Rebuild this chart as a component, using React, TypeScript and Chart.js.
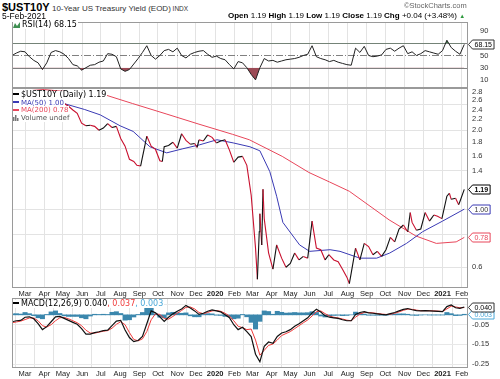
import React, { useEffect, useRef } from "react";
import { Chart, registerables } from "chart.js";

Chart.register(...registerables);

// ---------------- data ----------------
const priceDates = [
  "2019-02-08","2019-02-15","2019-02-22","2019-03-01","2019-03-08","2019-03-15","2019-03-22","2019-03-29",
  "2019-04-05","2019-04-12","2019-04-18","2019-04-26","2019-05-03","2019-05-10","2019-05-17","2019-05-24",
  "2019-05-31","2019-06-07","2019-06-14","2019-06-21","2019-06-28","2019-07-05","2019-07-12","2019-07-19",
  "2019-07-26","2019-08-02","2019-08-09","2019-08-16","2019-08-23","2019-08-28","2019-09-03","2019-09-13",
  "2019-09-20","2019-09-27","2019-10-04","2019-10-08","2019-10-11","2019-10-18","2019-10-25","2019-11-01",
  "2019-11-08","2019-11-15","2019-11-22","2019-11-29","2019-12-03","2019-12-06","2019-12-13","2019-12-20",
  "2019-12-27","2020-01-03","2020-01-10","2020-01-17","2020-01-24","2020-01-31","2020-02-07","2020-02-14",
  "2020-02-21","2020-02-28","2020-03-06","2020-03-09","2020-03-12","2020-03-13","2020-03-16","2020-03-18",
  "2020-03-20","2020-03-27","2020-04-03","2020-04-09","2020-04-17","2020-04-24","2020-05-01","2020-05-08",
  "2020-05-15","2020-05-22","2020-05-29","2020-06-05","2020-06-12","2020-06-19","2020-06-26","2020-07-02",
  "2020-07-10","2020-07-17","2020-07-24","2020-07-31","2020-08-04","2020-08-07","2020-08-14","2020-08-21",
  "2020-08-28","2020-09-04","2020-09-11","2020-09-18","2020-09-25","2020-10-02","2020-10-09","2020-10-16",
  "2020-10-23","2020-10-30","2020-11-06","2020-11-10","2020-11-13","2020-11-20","2020-11-27","2020-12-04",
  "2020-12-11","2020-12-18","2020-12-24","2020-12-31","2021-01-08","2021-01-12","2021-01-15","2021-01-22",
  "2021-01-27","2021-01-29","2021-02-05",
];
const priceValues = [
  2.63, 2.66, 2.65, 2.76, 2.63, 2.59, 2.44, 2.41,
  2.50, 2.56, 2.56, 2.50, 2.53, 2.47, 2.39, 2.32,
  2.13, 2.08, 2.09, 2.07, 2.00, 2.04, 2.12, 2.05,
  2.07, 1.86, 1.74, 1.55, 1.52, 1.47, 1.46, 1.90,
  1.74, 1.69, 1.53, 1.52, 1.73, 1.75, 1.80, 1.71,
  1.94, 1.83, 1.77, 1.78, 1.72, 1.84, 1.82, 1.92,
  1.88, 1.79, 1.82, 1.84, 1.68, 1.51, 1.58, 1.59,
  1.47, 1.13, 0.71, 0.54, 0.82, 0.96, 0.73, 1.19,
  0.92, 0.68, 0.59, 0.73, 0.65, 0.60, 0.62, 0.68,
  0.64, 0.66, 0.65, 0.90, 0.71, 0.70, 0.64, 0.67,
  0.64, 0.63, 0.59, 0.55, 0.52, 0.57, 0.71, 0.64,
  0.74, 0.72, 0.67, 0.69, 0.66, 0.70, 0.78, 0.75,
  0.84, 0.87, 0.82, 0.97, 0.89, 0.83, 0.84, 0.97,
  0.90, 0.95, 0.94, 0.92, 1.12, 1.15, 1.09, 1.10,
  1.04, 1.07, 1.19,
];

const ma50Dates = [
  "2019-02-08","2019-03-15","2019-04-30","2019-06-05","2019-06-30","2019-08-01","2019-08-22","2019-09-18",
  "2019-10-15","2019-11-10","2019-12-07","2020-01-04","2020-01-30","2020-02-26","2020-03-13","2020-03-29",
  "2020-04-09","2020-04-19","2020-05-16","2020-06-01","2020-07-04","2020-07-20","2020-08-21","2020-09-17",
  "2020-10-08","2020-11-04","2020-11-30","2021-01-01","2021-02-05",
];
const ma50Values = [
  2.68, 2.67, 2.54, 2.40, 2.29, 2.08, 1.98, 1.73,
  1.64, 1.70, 1.76, 1.84, 1.79, 1.73, 1.67, 1.39,
  1.12, 0.89, 0.73, 0.69, 0.70, 0.69, 0.65, 0.65,
  0.68, 0.74, 0.82, 0.90, 1.00,
];

const ma200Dates = [
  "2019-02-08","2019-04-01","2019-05-20","2019-07-10","2019-08-21","2019-10-14","2019-12-06","2020-01-29",
  "2020-02-25","2020-04-18","2020-05-31","2020-07-03","2020-08-04","2020-10-07","2020-11-19","2020-12-22",
  "2021-01-23","2021-02-05",
];
const ma200Values = [
  2.93, 2.86, 2.79, 2.72, 2.53, 2.31, 2.11, 1.93,
  1.84, 1.59, 1.38, 1.27, 1.17, 0.91, 0.79, 0.74,
  0.75, 0.78,
];

// weekly series, one value per week starting on this date
const weeklyStart = "2019-02-08";
const rsiValues = [
  50, 54, 57, 56, 48, 42, 38, 27, 38, 55,
  58, 56, 52, 45, 35, 33, 26, 30, 34, 35,
  39, 41, 53, 52, 48, 28, 24, 27, 36, 45,
  55, 66, 50, 44, 50, 58, 60, 56, 62, 50,
  46, 52, 55, 57, 58, 52, 47, 49, 45, 43,
  35, 28, 40, 38, 30, 19, 10, 30, 45, 41,
  42, 39, 41, 43, 44, 45, 47, 50, 52, 66,
  48, 45, 43, 40, 42, 39, 37, 35, 34, 62,
  55, 65, 50, 48, 49, 51, 60, 62, 57, 62,
  66, 53, 56, 50, 53, 58, 56, 54, 52, 58,
  75, 63, 57, 52, 68.15,
];
const macdValues = [
  -0.035, -0.030, -0.028, -0.012, -0.010, -0.020, -0.045, -0.075, -0.060, -0.035,
  -0.010, -0.008, -0.018, -0.028, -0.038, -0.048, -0.070, -0.098, -0.098, -0.090,
  -0.086, -0.080, -0.078, -0.055, -0.032, -0.028, -0.077, -0.115, -0.136, -0.130,
  -0.110, -0.045, 0.020, 0.010, -0.010, -0.033, -0.012, 0.005, 0.018, 0.030,
  0.048, 0.035, 0.020, 0.002, 0.008, 0.018, 0.025, 0.020, 0.015, 0.000,
  -0.015, -0.050, -0.075, -0.063, -0.085, -0.110, -0.200, -0.238, -0.160, -0.138,
  -0.145, -0.110, -0.092, -0.086, -0.075, -0.058, -0.045, -0.030, -0.015, 0.010,
  0.028, 0.014, -0.005, -0.012, -0.015, -0.018, -0.025, -0.030, -0.030, 0.002,
  0.012, 0.016, 0.010, 0.008, 0.005, 0.002, 0.000, 0.006, 0.012, 0.020,
  0.028, 0.032, 0.026, 0.021, 0.020, 0.021, 0.020, 0.019, 0.018, 0.016,
  0.042, 0.050, 0.036, 0.033, 0.040,
];
const signalValues = [
  -0.040, -0.036, -0.032, -0.024, -0.016, -0.016, -0.030, -0.055, -0.062, -0.050,
  -0.030, -0.015, -0.013, -0.020, -0.030, -0.040, -0.055, -0.078, -0.092, -0.093,
  -0.088, -0.083, -0.080, -0.068, -0.048, -0.035, -0.050, -0.090, -0.125, -0.132,
  -0.122, -0.085, -0.025, 0.005, 0.002, -0.018, -0.022, -0.008, 0.008, 0.022,
  0.038, 0.040, 0.030, 0.012, 0.006, 0.012, 0.020, 0.022, 0.018, 0.008,
  -0.006, -0.030, -0.058, -0.065, -0.075, -0.072, -0.128, -0.205, -0.180, -0.155,
  -0.148, -0.128, -0.105, -0.095, -0.085, -0.070, -0.055, -0.040, -0.026, -0.006,
  0.016, 0.020, 0.006, -0.006, -0.012, -0.016, -0.021, -0.027, -0.030, -0.012,
  0.004, 0.012, 0.012, 0.010, 0.007, 0.004, 0.002, 0.003, 0.008, 0.015,
  0.023, 0.029, 0.028, 0.024, 0.021, 0.021, 0.021, 0.020, 0.019, 0.017,
  0.030, 0.044, 0.040, 0.036, 0.037,
];

const monthTickDates = [
  "2019-03-01","2019-04-01","2019-05-01","2019-06-01","2019-07-01","2019-08-01","2019-09-01","2019-10-01",
  "2019-11-01","2019-12-01","2020-01-01","2020-02-01","2020-03-01","2020-04-01","2020-05-01","2020-06-01",
  "2020-07-01","2020-08-01","2020-09-01","2020-10-01","2020-11-01","2020-12-01","2021-01-01","2021-02-01",
];
const monthLabels = [
  "Mar","Apr","May","Jun","Jul","Aug","Sep","Oct","Nov","Dec","2020","Feb",
  "Mar","Apr","May","Jun","Jul","Aug","Sep","Oct","Nov","Dec","2021","Feb",
];
const priceLabelTicks = [0.6, 1.4, 1.6, 1.8, 2.0, 2.2, 2.4, 2.6, 2.8];
const priceGridTicks = [0.6, 0.8, 1.0, 1.4, 1.7, 2.0, 2.5];
const rsiLabelTicks = [10, 30, 50, 90];
const macdLabelTicks = [-0.25, -0.2, -0.15, -0.1, -0.05];
const macdGridTicks = [-0.25, -0.2, -0.15, -0.1, -0.05, 0, 0.05];

// ---------------- helpers ----------------
const DAY0 = Date.UTC(2019, 0, 1);
const dayOf = (s: string) => {
  const [y, m, d] = s.split("-").map(Number);
  return (Date.UTC(y, m - 1, d) - DAY0) / 86400000;
};
const X_MIN = 38;
const X_MAX = 772;
const AXIS_FONT = '"Liberation Sans", Arial, sans-serif';
const LEGEND_FONT = '"DejaVu Sans", Verdana, sans-serif';

const UP = "#111111";
const DOWN = "#c8102e";
const MA50C = "#3a3ab4";
const MA200C = "#e8465a";
const SIGC = "#f03a3a";
const HISTC = "#3b87ad";
const HISTTXT = "#4aa8d8";

const weekly = (vals: number[]) => vals.map((v, i) => ({ x: dayOf(weeklyStart) + 7 * i, y: v }));
const pairs = (dates: string[], vals: number[]) => dates.map((d, i) => ({ x: dayOf(d), y: vals[i] }));
const last = (a: number[]) => a[a.length - 1];

function xScale(labelHeight: number) {
  return {
    type: "linear",
    min: X_MIN,
    max: X_MAX,
    afterBuildTicks: (s: any) => {
      s.ticks = monthTickDates.map((d) => ({ value: dayOf(d) }));
    },
    afterFit: (s: any) => {
      s.height = labelHeight;
      s.paddingLeft = 0;
      s.paddingRight = 0;
    },
    grid: { color: "#e3e3e3", lineWidth: 1, drawTicks: false },
    border: { display: false },
    ticks: {
      display: labelHeight > 0,
      autoSkip: false,
      maxRotation: 0,
      minRotation: 0,
      padding: 1,
      color: "#222",
      font: (c: any) => ({
        family: AXIS_FONT,
        size: 7.5,
        weight: /^\d{4}$/.test(monthLabels[c.index] || "") ? "bold" : "normal",
      }),
      callback: (_v: any, i: number) => monthLabels[i],
    },
  };
}

function yRight(extra: any) {
  return {
    position: "right",
    afterFit: (s: any) => {
      s.width = 32;
      s.paddingTop = 0;
      s.paddingBottom = 0;
    },
    border: { display: false },
    ...extra,
  };
}

const framePlugin = {
  id: "frame",
  afterDraw(chart: any) {
    const { ctx, chartArea: a } = chart;
    ctx.save();
    ctx.strokeStyle = "#9a9a9a";
    ctx.lineWidth = 1;
    ctx.strokeRect(
      Math.round(a.left) + 0.5,
      Math.round(a.top) + 0.5,
      Math.round(a.right - a.left) - 1,
      Math.round(a.bottom - a.top) - 1
    );
    ctx.restore();
  },
};

type Tag = { value: number; text: string; color: string; border: string; bold?: boolean };
function tagPlugin(items: Tag[]) {
  return {
    id: "tags",
    afterDraw(chart: any) {
      const { ctx, chartArea } = chart;
      const y = chart.scales.y;
      items.forEach((t) => {
        const py = Math.round(y.getPixelForValue(t.value)) + 0.5;
        const x0 = Math.round(chartArea.right) + 0.5;
        ctx.save();
        ctx.font = `${t.bold ? "bold " : ""}7px ${AXIS_FONT}`;
        const tw = ctx.measureText(t.text).width;
        const h = 9;
        const right = x0 + 4 + tw + 4;
        ctx.beginPath();
        ctx.moveTo(x0, py);
        ctx.lineTo(x0 + 4, py - h / 2);
        ctx.lineTo(right, py - h / 2);
        ctx.lineTo(right, py + h / 2);
        ctx.lineTo(x0 + 4, py + h / 2);
        ctx.closePath();
        ctx.fillStyle = "#fff";
        ctx.fill();
        ctx.strokeStyle = t.border;
        ctx.lineWidth = 1;
        ctx.stroke();
        ctx.fillStyle = t.color;
        ctx.textBaseline = "middle";
        ctx.textAlign = "left";
        ctx.fillText(t.text, x0 + 6, py + 0.5);
        ctx.restore();
      });
    },
  };
}

const rsiLinesPlugin = {
  id: "rsiLines",
  beforeDatasetsDraw(chart: any) {
    const { ctx, chartArea: a, scales } = chart;
    const y = scales.y;
    ctx.save();
    ctx.strokeStyle = "#808080";
    ctx.lineWidth = 1;
    [70, 30].forEach((v) => {
      const py = Math.round(y.getPixelForValue(v)) + 0.5;
      ctx.beginPath();
      ctx.moveTo(a.left, py);
      ctx.lineTo(a.right, py);
      ctx.stroke();
    });
    ctx.setLineDash([7, 2, 1, 2]);
    const p50 = Math.round(y.getPixelForValue(50)) + 0.5;
    ctx.beginPath();
    ctx.moveTo(a.left, p50);
    ctx.lineTo(a.right, p50);
    ctx.stroke();
    ctx.restore();
  },
};

const baseOptions = (padTop: number, padBottom: number) => ({
  animation: false,
  responsive: false,
  events: [],
  layout: { padding: { left: 12, right: 0, top: padTop, bottom: padBottom } },
  plugins: { legend: { display: false }, tooltip: { enabled: false } },
  elements: { point: { radius: 0 }, line: { tension: 0 } },
});

// ---------------- legend pieces ----------------
function Marker({ color }: { color: string }) {
  return (
    <span
      style={{
        display: "inline-block",
        width: 6,
        height: 2,
        background: color,
        verticalAlign: "middle",
        marginRight: 2,
        marginBottom: 1,
      }}
    />
  );
}

function LegendRow({ top, size, children }: { top: number; size?: number; children: any }) {
  return (
    <div
      style={{
        position: "absolute",
        left: 13,
        top,
        height: 8,
        lineHeight: "8px",
        fontSize: size || 7,
        fontFamily: LEGEND_FONT,
        whiteSpace: "nowrap",
        background: "#fff",
        paddingRight: 1,
      }}
    >
      {children}
    </div>
  );
}

export default function App() {
  const rsiRef = useRef<HTMLCanvasElement>(null);
  const mainRef = useRef<HTMLCanvasElement>(null);
  const macdRef = useRef<HTMLCanvasElement>(null);

  useEffect(() => {
    Chart.defaults.font.family = AXIS_FONT;
    const charts: Chart[] = [];
    const rsiPts = weekly(rsiValues);

    charts.push(
      new Chart(rsiRef.current as HTMLCanvasElement, {
        type: "line",
        data: {
          datasets: [
            {
              data: rsiPts,
              borderColor: "#222",
              borderWidth: 1,
              pointRadius: 0,
              fill: { target: { value: 30 }, above: "rgba(0,0,0,0)", below: "#9b4a55" },
              order: 1,
            },
            {
              data: rsiPts,
              borderColor: "rgba(0,0,0,0)",
              borderWidth: 0,
              pointRadius: 0,
              fill: { target: { value: 70 }, above: "#3f8f52", below: "rgba(0,0,0,0)" },
              order: 2,
            },
          ],
        },
        options: {
          ...baseOptions(4, 4),
          scales: {
            x: xScale(0),
            y: yRight({
              type: "linear",
              min: -3.3,
              max: 104.9,
              afterBuildTicks: (s: any) => {
                s.ticks = rsiLabelTicks.map((v) => ({ value: v }));
              },
              grid: { display: false },
              ticks: { padding: 4, color: "#333", font: { family: AXIS_FONT, size: 7.5 }, callback: (v: any) => String(v) },
            }),
          },
        } as any,
        plugins: [
          rsiLinesPlugin,
          framePlugin,
          tagPlugin([{ value: last(rsiValues), text: last(rsiValues).toFixed(2), color: "#000", border: "#333" }]),
        ],
      })
    );

    const allPriceTicks = Array.from(new Set([...priceLabelTicks, ...priceGridTicks])).sort((a, b) => a - b);
    charts.push(
      new Chart(mainRef.current as HTMLCanvasElement, {
        type: "line",
        data: {
          datasets: [
            {
              data: pairs(priceDates, priceValues),
              borderColor: UP,
              borderWidth: 1.1,
              pointRadius: 0,
              segment: { borderColor: (c: any) => (c.p1.parsed.y < c.p0.parsed.y ? DOWN : UP) },
              order: 0,
            },
            { data: pairs(ma50Dates, ma50Values), borderColor: MA50C, borderWidth: 1, pointRadius: 0, order: 1 },
            { data: pairs(ma200Dates, ma200Values), borderColor: MA200C, borderWidth: 1, pointRadius: 0, order: 2 },
          ],
        },
        options: {
          ...baseOptions(4, 0),
          scales: {
            x: xScale(10),
            y: yRight({
              type: "logarithmic",
              min: 0.5,
              max: 2.9,
              afterBuildTicks: (s: any) => {
                s.ticks = allPriceTicks.map((v) => ({ value: v }));
              },
              grid: {
                drawTicks: false,
                color: (c: any) =>
                  c.tick && priceGridTicks.includes(c.tick.value) ? "#e3e3e3" : "rgba(0,0,0,0)",
              },
              ticks: {
                padding: 4,
                color: "#333",
                font: { family: AXIS_FONT, size: 7.5 },
                callback: (v: any) => (priceLabelTicks.includes(Number(v)) ? Number(v).toFixed(1) : ""),
              },
            }),
          },
        } as any,
        plugins: [
          framePlugin,
          tagPlugin([
            { value: last(ma200Values), text: last(ma200Values).toFixed(2), color: MA200C, border: MA200C },
            { value: last(ma50Values), text: last(ma50Values).toFixed(2), color: "#333", border: MA50C },
            { value: last(priceValues), text: last(priceValues).toFixed(2), color: "#000", border: "#000", bold: true },
          ]),
        ],
      })
    );

    const histValues = macdValues.map((v, i) => v - signalValues[i]);
    charts.push(
      new Chart(macdRef.current as HTMLCanvasElement, {
        type: "line",
        data: {
          datasets: [
            {
              type: "bar",
              data: weekly(histValues),
              backgroundColor: HISTC,
              borderWidth: 0,
              barPercentage: 1,
              categoryPercentage: 1,
              order: 3,
            } as any,
            { data: weekly(signalValues), borderColor: SIGC, borderWidth: 1, pointRadius: 0, order: 2 },
            { data: weekly(macdValues), borderColor: "#111", borderWidth: 1.2, pointRadius: 0, order: 1 },
          ],
        },
        options: {
          ...baseOptions(4, 0),
          scales: {
            x: { ...xScale(11), offset: false },
            y: yRight({
              type: "linear",
              min: -0.2698,
              max: 0.0855,
              afterBuildTicks: (s: any) => {
                s.ticks = macdGridTicks.map((v) => ({ value: v }));
              },
              grid: { drawTicks: false, color: (c: any) => (c.tick && c.tick.value === 0 ? "#bdbdbd" : "#e8e8e8") },
              ticks: {
                padding: 4,
                color: "#333",
                font: { family: AXIS_FONT, size: 7.5 },
                callback: (v: any) => (macdLabelTicks.includes(Number(v)) ? Number(v).toFixed(2) : ""),
              },
            }),
          },
        } as any,
        plugins: [
          framePlugin,
          tagPlugin([
            { value: last(histValues), text: last(histValues).toFixed(3), color: HISTTXT, border: HISTTXT },
            { value: last(macdValues), text: last(macdValues).toFixed(3), color: "#000", border: "#333" },
          ]),
        ],
      })
    );

    return () => charts.forEach((c) => c.destroy());
  }, []);

  const hist = last(macdValues) - last(signalValues);

  return (
    <div
      style={{
        position: "fixed",
        left: 0,
        top: 0,
        width: 500,
        height: 379,
        background: "#fff",
        overflow: "hidden",
        fontFamily: AXIS_FONT,
      }}
    >
      <canvas ref={rsiRef} width={500} height={74} style={{ position: "absolute", left: 0, top: 18 }} />
      <canvas ref={mainRef} width={500} height={214} style={{ position: "absolute", left: 0, top: 84 }} />
      <canvas ref={macdRef} width={500} height={85} style={{ position: "absolute", left: 0, top: 294 }} />

      {/* header */}
      <div style={{ position: "absolute", left: 2, top: 0, whiteSpace: "nowrap", lineHeight: "12px" }}>
        <span style={{ fontSize: 11, fontWeight: "bold", color: "#000" }}>$UST10Y</span>
        <span style={{ fontSize: 8, color: "#333" }}> 10-Year US Treasury Yield (EOD)</span>
        <span style={{ fontSize: 6.5, color: "#333" }}> INDX</span>
      </div>
      <div style={{ position: "absolute", left: 2, top: 12, fontSize: 8.5, lineHeight: "9px", color: "#000" }}>
        5-Feb-2021
      </div>
      <div style={{ position: "absolute", left: 404, top: 1, fontSize: 7.5, lineHeight: "10px", color: "#666" }}>
        ©StockCharts.com
      </div>
      <div
        style={{
          position: "absolute",
          left: 228,
          top: 11,
          fontSize: 8,
          lineHeight: "10px",
          whiteSpace: "nowrap",
          color: "#000",
        }}
      >
        <b>Open</b> 1.19 <b>High</b> 1.19 <b>Low</b> 1.19 <b>Close</b> 1.19 <b>Chg</b> +0.04 (+3.48%){" "}
        <span style={{ color: "#2e9a3e", fontSize: 6 }}>▲</span>
      </div>

      {/* RSI legend */}
      <LegendRow top={21} size={8}>
        <svg width="7" height="6" style={{ verticalAlign: "middle", marginRight: 2 }}>
          <polygon points="0,6 2,1 4,4 7,0 7,6" fill="#3f8f52" />
        </svg>
        <span style={{ color: "#000" }}>RSI(14) {last(rsiValues).toFixed(2)}</span>
      </LegendRow>

      {/* main legend */}
      <LegendRow top={91} size={8}>
        <Marker color="#000" />
        <span style={{ color: "#000" }}>$UST10Y (Daily) {last(priceValues).toFixed(2)}</span>
      </LegendRow>
      <LegendRow top={98.5}>
        <Marker color={MA50C} />
        <span style={{ color: MA50C }}>MA(50) {last(ma50Values).toFixed(2)}</span>
      </LegendRow>
      <LegendRow top={106}>
        <Marker color={MA200C} />
        <span style={{ color: MA200C }}>MA(200) {last(ma200Values).toFixed(2)}</span>
      </LegendRow>
      <LegendRow top={113.5}>
        <svg width="6" height="6" style={{ verticalAlign: "middle", marginRight: 2 }}>
          <rect x="0" y="2" width="1.5" height="4" fill="#777" />
          <rect x="2" y="0" width="1.5" height="6" fill="#777" />
          <rect x="4" y="3" width="1.5" height="3" fill="#777" />
        </svg>
        <span style={{ color: "#555" }}>Volume undef</span>
      </LegendRow>

      {/* MACD legend */}
      <LegendRow top={299.5} size={8}>
        <Marker color="#000" />
        <span style={{ color: "#000" }}>MACD(12,26,9) {last(macdValues).toFixed(3)}</span>
        <span style={{ color: SIGC }}>, {last(signalValues).toFixed(3)}</span>
        <span style={{ color: HISTTXT }}>, {hist.toFixed(3)}</span>
      </LegendRow>
    </div>
  );
}
